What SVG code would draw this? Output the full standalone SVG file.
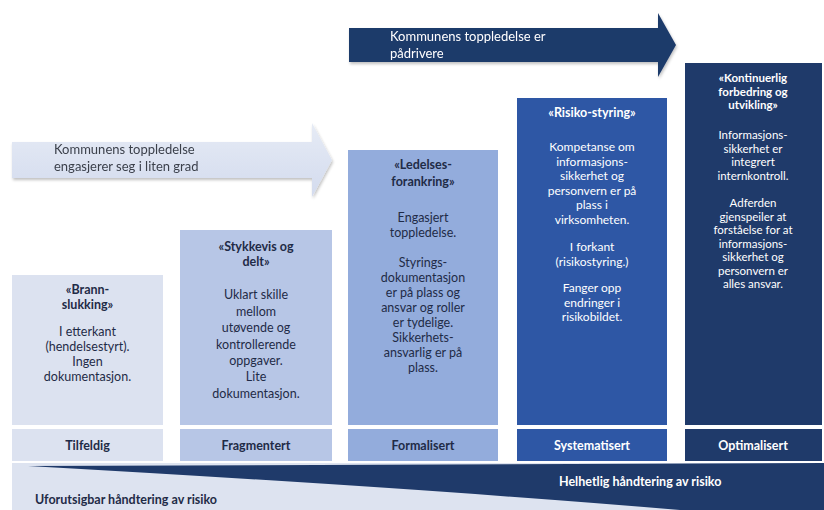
<svg xmlns="http://www.w3.org/2000/svg" width="824" height="510" viewBox="0 0 824 510">
<defs>
<linearGradient id="gLight" x1="0" y1="0" x2="0" y2="1">
<stop offset="0" stop-color="#e6ebf5"/><stop offset="1" stop-color="#d3dbee"/>
</linearGradient>
<filter id="sh" x="-5%" y="-5%" width="110%" height="115%">
<feGaussianBlur in="SourceAlpha" stdDeviation="1.5"/><feOffset dx="1" dy="2"/>
<feComponentTransfer><feFuncA type="linear" slope="0.25"/></feComponentTransfer>
<feMerge><feMergeNode/><feMergeNode in="SourceGraphic"/></feMerge>
</filter>
</defs>
<style>
text{font-family:Lato,"Liberation Sans",sans-serif;text-anchor:middle}
.t{font-size:12.5px;font-weight:bold}
.b{font-size:12.5px}
.s{font-size:11.5px}
.sb{font-size:11.5px;font-weight:bold}
.m{font-size:12px}
.dk{fill:#1f2b47}
.wt{fill:#ffffff}
.lab{font-size:12.5px;font-weight:bold}
.c1{fill:#dce2f0}.c2{fill:#b7c6e6}.c3{fill:#93acdc}.c4{fill:#2e57a5}.c5{fill:#1f3a6a}
</style>
<rect width="824" height="510" fill="#ffffff"/>

<g id="arrow-light" filter="url(#sh)">
<polygon points="12,142 312,142 312,123 332,160 312,197 312,178 12,178" fill="url(#gLight)"/>
<text x="54" y="154" style="text-anchor:start;font-size:13px" fill="#3a3f4a">Kommunens toppledelse</text>
<text x="54" y="171" style="text-anchor:start;font-size:13px" fill="#3a3f4a">engasjerer seg i liten grad</text>
</g>

<g id="arrow-dark" filter="url(#sh)">
<polygon points="349,28 658,28 658,13 676,45 658,77 658,62 349,62" fill="#1f3a6a"/>
<text x="390" y="41" style="text-anchor:start;font-size:13px" class="wt">Kommunens toppledelse er</text>
<text x="390" y="58" style="text-anchor:start;font-size:13px" class="wt">pådrivere</text>
</g>

<g id="col1">
<rect x="12" y="275" width="151" height="150" class="c1"/>
<text class="t dk" x="87.5" y="294">«Brann-</text>
<text class="t dk" x="87.5" y="309">slukking»</text>
<text class="b dk" x="87.5" y="336">I etterkant</text>
<text class="b dk" x="87.5" y="351">(hendelsestyrt).</text>
<text class="b dk" x="87.5" y="366">Ingen</text>
<text class="b dk" x="87.5" y="381">dokumentasjon.</text>
</g>

<g id="col2">
<rect x="180" y="230" width="152" height="195" class="c2"/>
<text class="t dk" x="256" y="251">«Stykkevis og</text>
<text class="t dk" x="256" y="266">delt»</text>
<text class="b dk" x="256" y="299">Uklart skille</text>
<text class="b dk" x="256" y="315.5">mellom</text>
<text class="b dk" x="256" y="332">utøvende og</text>
<text class="b dk" x="256" y="348.5">kontrollerende</text>
<text class="b dk" x="256" y="365">oppgaver.</text>
<text class="b dk" x="256" y="381">Lite</text>
<text class="b dk" x="256" y="398">dokumentasjon.</text>
</g>

<g id="col3">
<rect x="348" y="150" width="150" height="275" class="c3"/>
<text class="t dk" x="423" y="169">«Ledelses-</text>
<text class="t dk" x="423" y="186">forankring»</text>
<text class="b dk" x="423" y="222">Engasjert</text>
<text class="b dk" x="423" y="237">toppledelse.</text>
<text class="b dk" x="423" y="267">Styrings-</text>
<text class="b dk" x="423" y="282">dokumentasjon</text>
<text class="b dk" x="423" y="297">er på plass og</text>
<text class="b dk" x="423" y="312">ansvar og roller</text>
<text class="b dk" x="423" y="327">er tydelige.</text>
<text class="b dk" x="423" y="341.5">Sikkerhets-</text>
<text class="b dk" x="423" y="356.5">ansvarlig er på</text>
<text class="b dk" x="423" y="371.5">plass.</text>
</g>

<g id="col4">
<rect x="517" y="98" width="150" height="327" class="c4"/>
<text class="t wt" x="592" y="117">«Risiko-styring»</text>
<text class="m wt" x="592" y="151">Kompetanse om</text>
<text class="m wt" x="592" y="165.5">informasjons-</text>
<text class="m wt" x="592" y="180">sikkerhet og</text>
<text class="m wt" x="592" y="194.5">personvern er på</text>
<text class="m wt" x="592" y="209">plass i</text>
<text class="m wt" x="592" y="223.5">virksomheten.</text>
<text class="m wt" x="592" y="251">I forkant</text>
<text class="m wt" x="592" y="265.5">(risikostyring.)</text>
<text class="m wt" x="592" y="292">Fanger opp</text>
<text class="m wt" x="592" y="306.5">endringer i</text>
<text class="m wt" x="592" y="321">risikobildet.</text>
</g>

<g id="col5">
<rect x="685" y="63" width="137" height="362" class="c5"/>
<text class="sb wt" x="753" y="82">«Kontinuerlig</text>
<text class="sb wt" x="753" y="95.5">forbedring og</text>
<text class="sb wt" x="753" y="109">utvikling»</text>
<text class="s wt" x="753" y="139">Informasjons-</text>
<text class="s wt" x="753" y="152.5">sikkerhet er</text>
<text class="s wt" x="753" y="166">integrert</text>
<text class="s wt" x="753" y="179.5">internkontroll.</text>
<text class="s wt" x="753" y="207">Adferden</text>
<text class="s wt" x="753" y="220.5">gjenspeiler at</text>
<text class="s wt" x="753" y="234">forståelse for at</text>
<text class="s wt" x="753" y="247.5">informasjons-</text>
<text class="s wt" x="753" y="261">sikkerhet og</text>
<text class="s wt" x="753" y="274.5">personvern er</text>
<text class="s wt" x="753" y="288">alles ansvar.</text>
</g>

<g id="labels">
<rect x="12" y="429" width="151" height="32" class="c1"/>
<text class="lab dk" x="87.5" y="449.5">Tilfeldig</text>
<rect x="180" y="429" width="152" height="32" class="c2"/>
<text class="lab dk" x="256" y="449.5">Fragmentert</text>
<rect x="348" y="429" width="150" height="32" class="c3"/>
<text class="lab dk" x="423" y="449.5">Formalisert</text>
<rect x="517" y="429" width="150" height="32" class="c4"/>
<text class="lab wt" x="592" y="449.5">Systematisert</text>
<rect x="685" y="429" width="137" height="32" class="c5"/>
<text class="lab wt" x="753" y="449.5">Optimalisert</text>
</g>

<g id="band">
<rect x="12" y="463" width="812" height="47" fill="#dde3f0"/>
<path d="M28,466 L824,463 L824,510 L680,510 Q420,488 28,466 Z" fill="#1f3a6a"/>
<text class="lab wt" x="559" y="486" style="text-anchor:start">Helhetlig håndtering av risiko</text>
<text class="lab dk" x="35" y="504" style="text-anchor:start">Uforutsigbar håndtering av risiko</text>
</g>
</svg>
